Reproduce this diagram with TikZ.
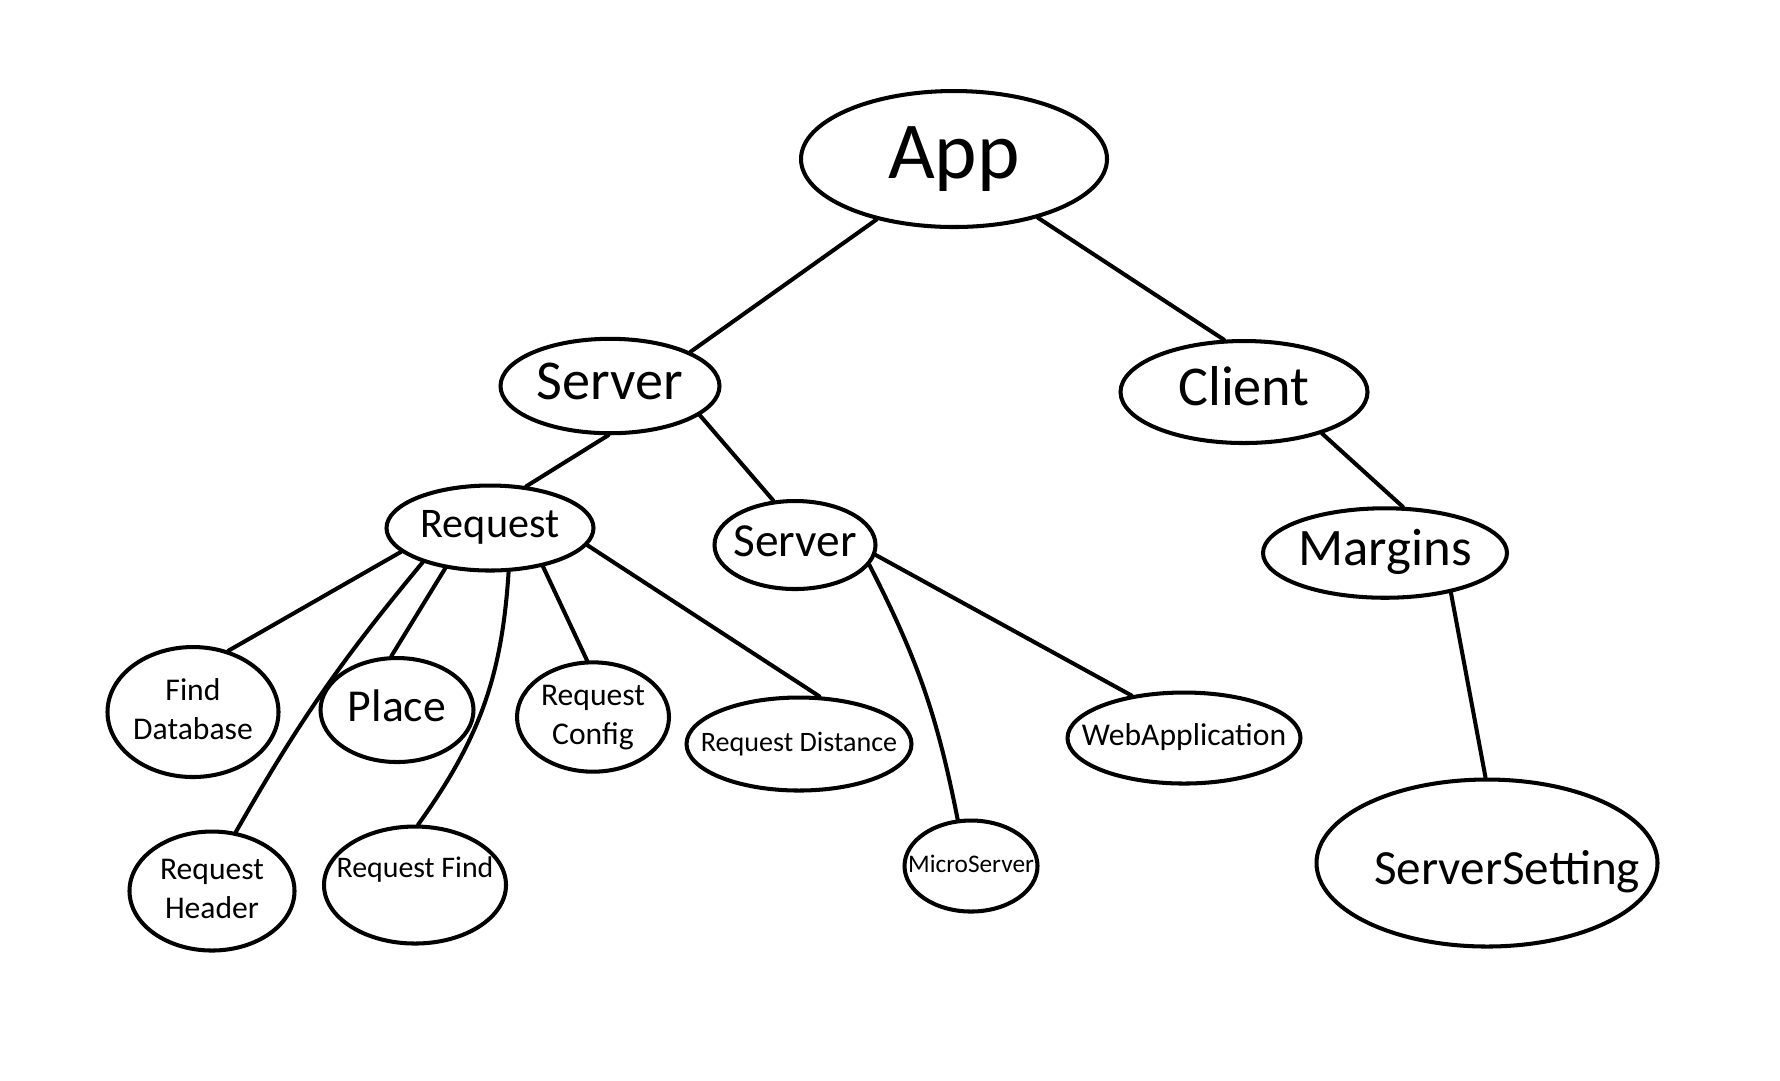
\documentclass[tikz,border=0pt]{standalone}
\usepackage{fontspec}
\setmainfont{Carlito}
\usetikzlibrary{shapes.geometric}
% zero-width label so the ellipse keeps its own size
\newcommand\zw[1]{\makebox[0pt]{\begin{tabular}{@{}c@{}}#1\end{tabular}}}
\begin{document}
\begin{tikzpicture}[x=0.1mm,y=-0.1mm,
  bub/.style={ellipse,draw,line width=1.15pt,inner sep=0pt},
  link/.style={line width=1.15pt,line cap=round}]
\useasboundingbox[fill=white] (0,0) rectangle (1780,1080);

% root
\node[bub,minimum width=30.6mm,minimum height=13.6mm,font=\fontsize{23}{27}\selectfont] (app) at (954,159) {\zw{App}};

% second level
\node[bub,minimum width=21.9mm,minimum height=9.1mm,font=\fontsize{16}{19}\selectfont] (srv) at (610,386) {\zw{Server}};
\node[bub,minimum width=24.7mm,minimum height=10.2mm,font=\fontsize{16}{19}\selectfont] (cli) at (1244,392) {\zw{Client}};

% third level
\node[bub,minimum width=20.7mm,minimum height=8.5mm,font=\fontsize{12}{14}\selectfont] (req) at (490,528) {\zw{Request}};
\node[bub,minimum width=16.1mm,minimum height=8.8mm,font=\fontsize{13.5}{16}\selectfont] (srvb) at (795,545) {\zw{Server}};
\node[bub,minimum width=24.4mm,minimum height=8.3mm,font=\fontsize{15}{18}\selectfont] (mar) at (1385,553) {\zw{Margins}};

% leaves
\node[bub,minimum width=17.1mm,minimum height=13mm,font=\fontsize{9}{11}\selectfont] (fdb) at (193,712) {\zw{Find\\Database}};
\node[bub,minimum width=15.3mm,minimum height=10.4mm,font=\fontsize{13}{16}\selectfont] (plc) at (397,710) {\zw{Place}};
\node[bub,minimum width=15.2mm,minimum height=9.4mm,font=\fontsize{9}{11}\selectfont] (rcf) at (593,717) {\zw{Request\\Config}};
\node[bub,minimum width=22.5mm,minimum height=9.3mm,font=\fontsize{8}{10}\selectfont] (rds) at (799,744) {\zw{Request Distance}};
\node[bub,minimum width=23.3mm,minimum height=9.1mm,font=\fontsize{9}{11}\selectfont] (web) at (1184,738) {\zw{WebApplication}};
\node[bub,minimum width=13.3mm,minimum height=9.1mm,font=\fontsize{7.2}{9}\selectfont] (mic) at (971,866) {\zw{MicroServer}};
\node[bub,minimum width=16.5mm,minimum height=11.9mm,font=\fontsize{9}{11}\selectfont] (rhd) at (212,891) {\zw{Request\\Header}};
\node[bub,minimum width=18.2mm,minimum height=11.7mm,font=\fontsize{8.5}{10}\selectfont] (rfd) at (415,885) {\zw{\raisebox{2.5mm}{Request Find}}};
\node[bub,minimum width=34.1mm,minimum height=16.7mm,font=\fontsize{14}{17}\selectfont] (sst) at (1487,863) {\zw{\hspace*{4mm}\raisebox{-1mm}{ServerSetting}}};

% connectors
\draw[link] (app.-142) -- (srv.23);
\draw[link] (app.-35) -- (cli.111);
\draw[link] (srv.-92) -- (req.49);
\draw[link] (srv.-18) -- (srvb.116);
\draw[link] (cli.-28) -- (mar.69);
\draw[link] (mar.-31) -- (sst.91);
\draw[link] (req.-165) -- (fdb.60);
\draw[link] (req.-153) to[bend right=5] (rhd.68);
\draw[link] (req.-138) -- (plc.96);
\draw[link] (req.-67) to[bend left=16] (rfd.87);
\draw[link] (req.-36) -- (rcf.96);
\draw[link] (req.-10) -- (rds.67);
\draw[link] (srvb.-15) to[bend left=8] (mic.106);
\draw[link] (srvb.-7) -- (web.141);
\end{tikzpicture}
\end{document}
